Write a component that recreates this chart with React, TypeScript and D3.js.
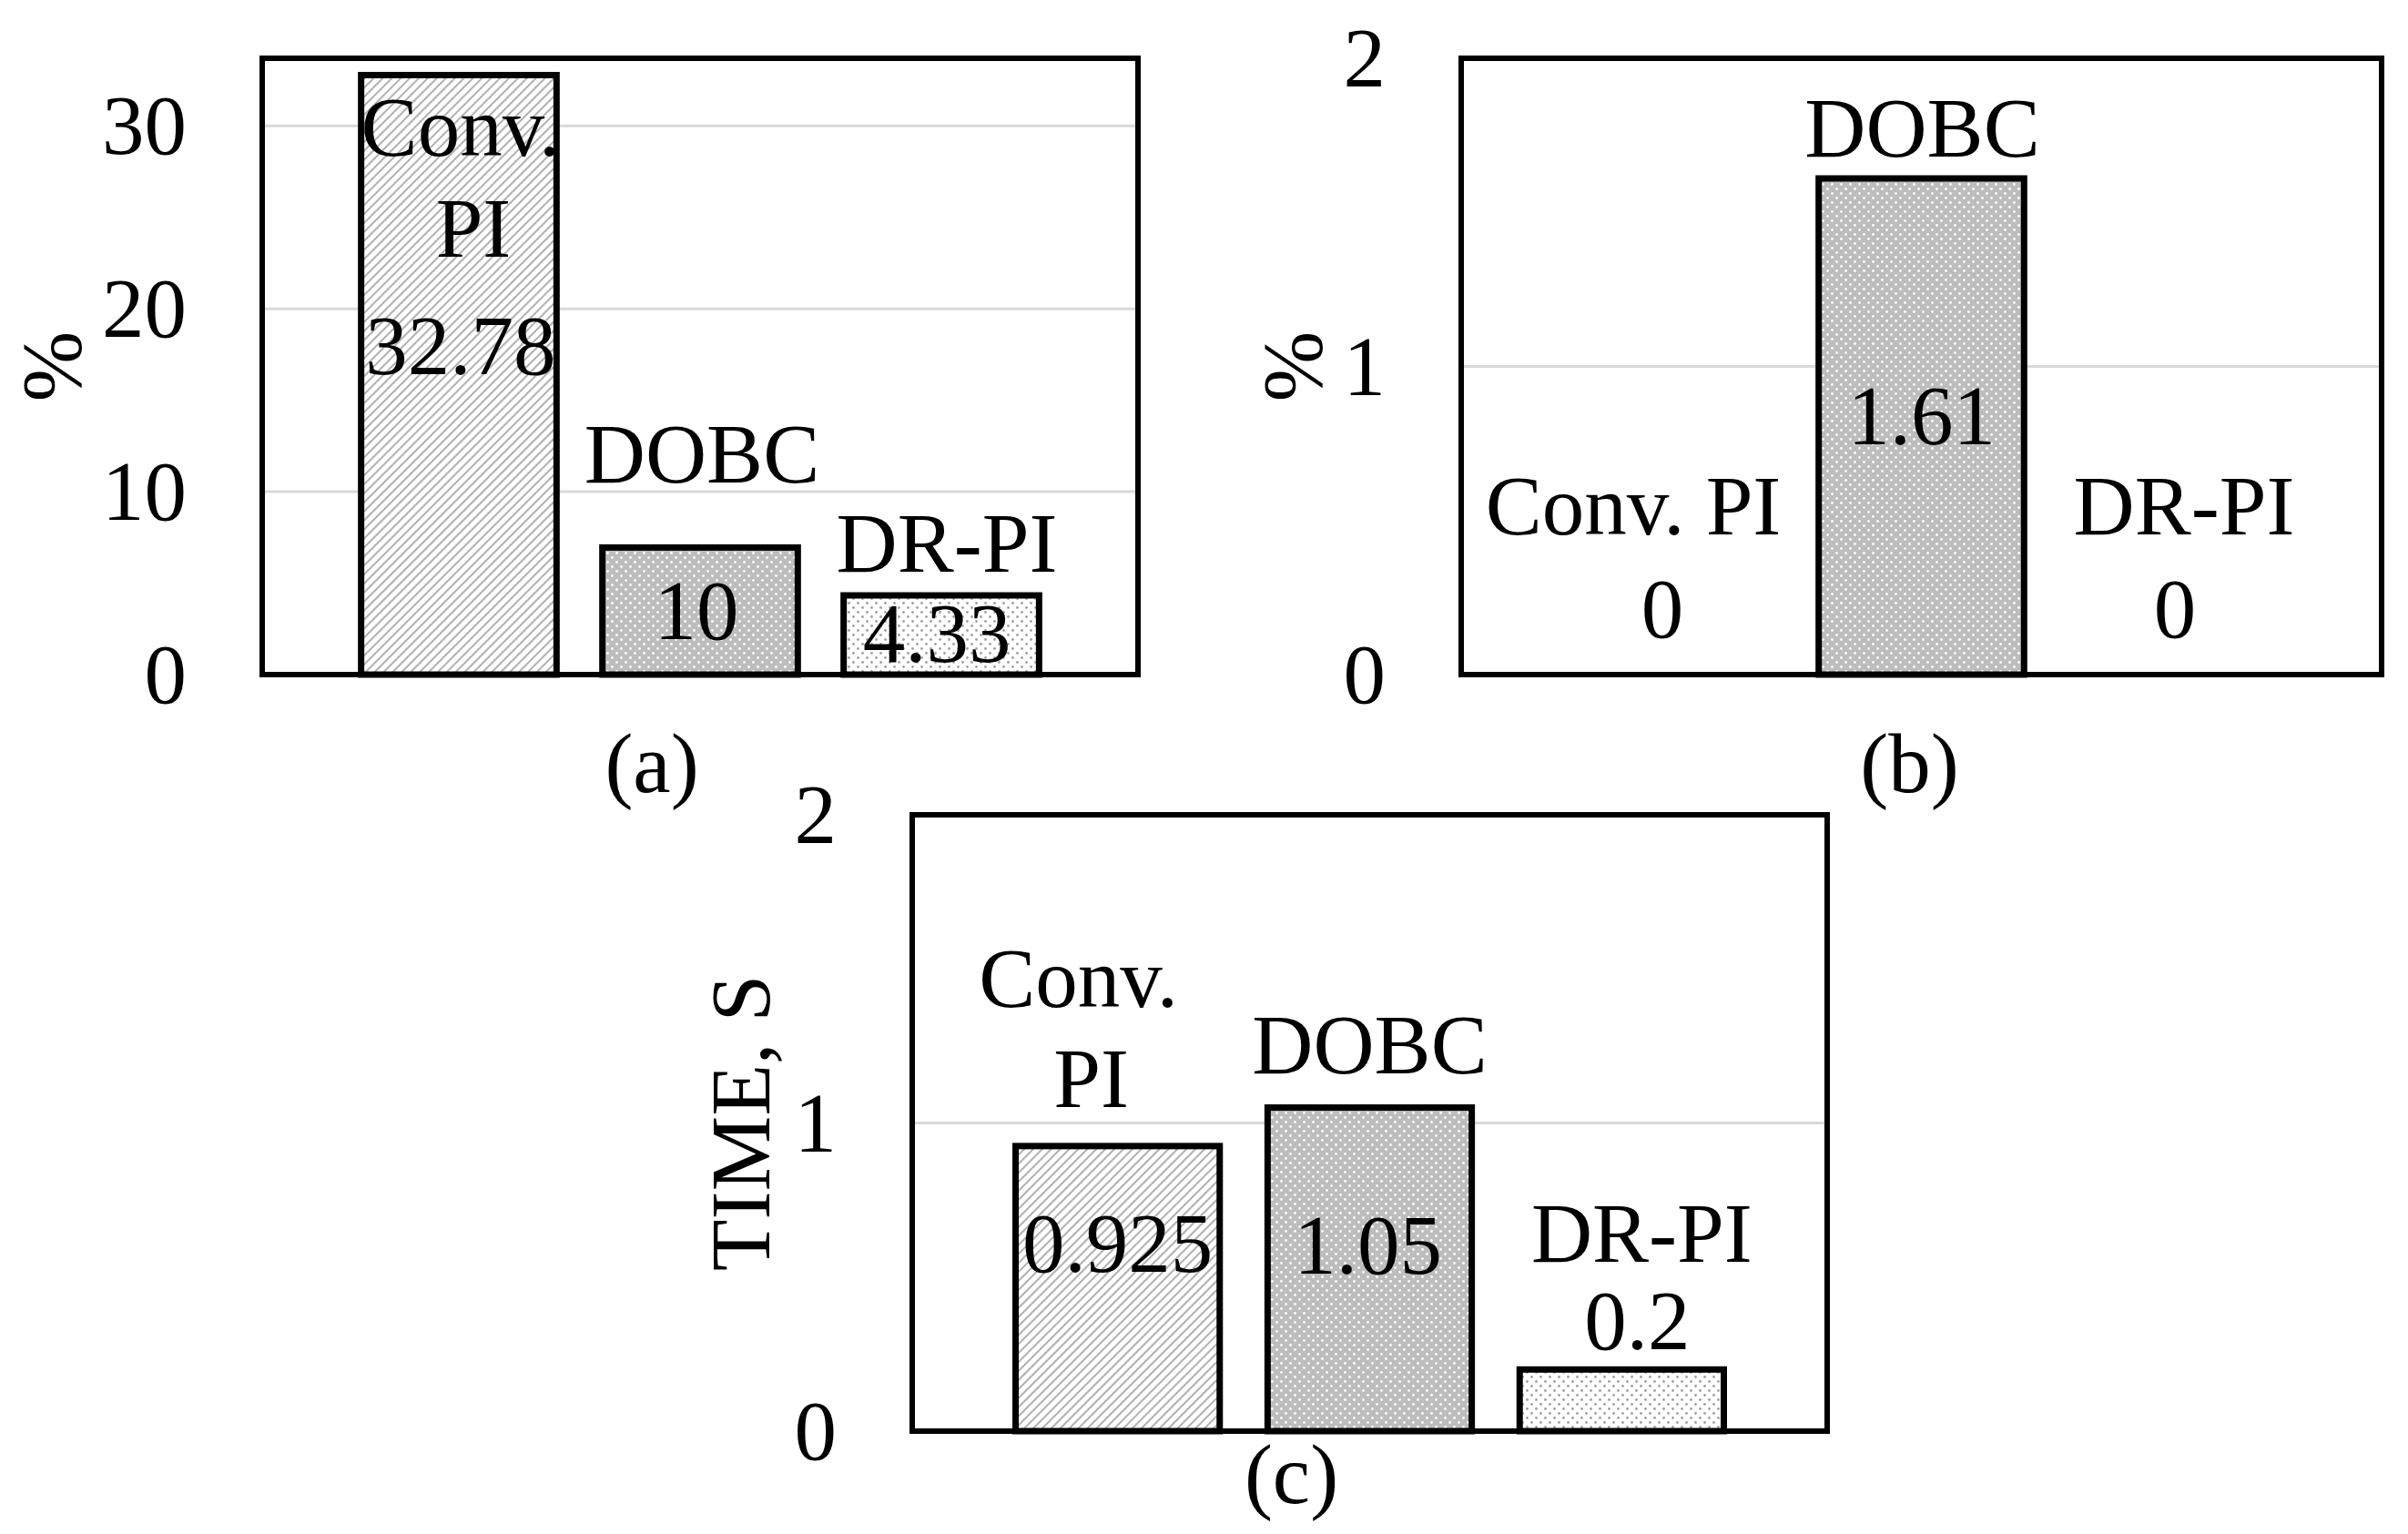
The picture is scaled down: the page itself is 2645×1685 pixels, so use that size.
import { useEffect, useRef } from 'react';
import * as d3 from 'd3';

const categories = ['Conv. PI', 'DOBC', 'DR-PI'];

// (a) overshoot, % -- DOBC bar is drawn lower than its "10" label in the source
const overshootValues = [32.78, 6.95, 4.33];
const overshootLabels = ['32.78', '10', '4.33'];
const overshootTicks = [0, 10, 20, 30];

// (b) undershoot, %
const undershootValues = [0, 1.61, 0];
const undershootLabels = ['0', '1.61', '0'];
const undershootTicks = [0, 1, 2];

// (c) settling time, s
const settlingValues = [0.925, 1.05, 0.2];
const settlingLabels = ['0.925', '1.05', '0.2'];
const settlingTicks = [0, 1, 2];

const W = 2645;
const H = 1685;
const FONT = "'Liberation Serif', 'Times New Roman', serif";
const FS = 93;
const fills = ['url(#hatch)', 'url(#dotsDark)', 'url(#dotsLight)'];

type Lbl = { text: string; dx: number; dy: number };

interface Panel {
  frame: { x0: number; x1: number; y0: number; y1: number };
  yMax: number;
  ticks: number[];
  values: number[];
  labels: Lbl[][]; // per bar, offsets from band centre / bar top
  title: string;
  titleX: number;
  caption: string;
  captionDx: number;
  captionY: number;
}

const panels: Panel[] = [
  {
    frame: { x0: 288, x1: 1250, y0: 64, y1: 741 },
    yMax: 33.7,
    ticks: overshootTicks,
    values: overshootValues,
    labels: [
      [
        { text: 'Conv.', dx: 2, dy: 89 },
        { text: 'PI', dx: 16, dy: 200 },
        { text: overshootLabels[0], dx: 2, dy: 329 },
      ],
      [
        { text: categories[1], dx: 2, dy: -71 },
        { text: overshootLabels[1], dx: -4, dy: 101 },
      ],
      [
        { text: categories[2], dx: 6, dy: -26 },
        { text: overshootLabels[2], dx: -5, dy: 73 },
      ],
    ],
    title: '%',
    titleX: 88,
    caption: '(a)',
    captionDx: -53,
    captionY: 870,
  },
  {
    frame: { x0: 1605, x1: 2616, y0: 64, y1: 741 },
    yMax: 2,
    ticks: undershootTicks,
    values: undershootValues,
    labels: [
      [
        { text: categories[0], dx: -38, dy: -154 },
        { text: undershootLabels[0], dx: -6, dy: -41 },
      ],
      [
        { text: categories[1], dx: 1, dy: -24 },
        { text: undershootLabels[1], dx: 0, dy: 292 },
      ],
      [
        { text: categories[2], dx: 10, dy: -154 },
        { text: undershootLabels[2], dx: 0, dy: -41 },
      ],
    ],
    title: '%',
    titleX: 1451,
    caption: '(b)',
    captionDx: -13,
    captionY: 870,
  },
  {
    frame: { x0: 1002, x1: 2007, y0: 895, y1: 1572 },
    yMax: 2,
    ticks: settlingTicks,
    values: settlingValues,
    labels: [
      [
        { text: 'Conv.', dx: -43, dy: -153 },
        { text: 'PI', dx: -29, dy: -43 },
        { text: settlingLabels[0], dx: 0, dy: 138 },
      ],
      [
        { text: categories[1], dx: 0, dy: -38 },
        { text: settlingLabels[1], dx: -2, dy: 182 },
      ],
      [
        { text: categories[2], dx: 22, dy: -118 },
        { text: settlingLabels[2], dx: 17, dy: -22 },
      ],
    ],
    title: 'TIME, S',
    titleX: 845,
    caption: '(c)',
    captionDx: -86,
    captionY: 1651,
  },
];

export default function App() {
  const svgRef = useRef<SVGSVGElement>(null);

  useEffect(() => {
    if (!svgRef.current) return;
    document.body.style.margin = '0';

    const svg = d3.select(svgRef.current);
    svg.selectAll('*').remove();
    svg.attr('width', W).attr('height', H);

    svg.append('rect').attr('width', W).attr('height', H).attr('fill', '#fff');

    // fill patterns
    const defs = svg.append('defs');
    const hatch = defs.append('pattern')
      .attr('id', 'hatch')
      .attr('patternUnits', 'userSpaceOnUse')
      .attr('width', 7)
      .attr('height', 7)
      .attr('patternTransform', 'rotate(45)');
    hatch.append('rect').attr('width', 7).attr('height', 7).attr('fill', '#fff');
    hatch.append('line')
      .attr('x1', 1).attr('y1', 0).attr('x2', 1).attr('y2', 7)
      .attr('stroke', '#b0b0b0').attr('stroke-width', 2);

    const dots = (id: string, bg: string, dot: string) => {
      const p = defs.append('pattern')
        .attr('id', id)
        .attr('patternUnits', 'userSpaceOnUse')
        .attr('width', 10)
        .attr('height', 10);
      p.append('rect').attr('width', 10).attr('height', 10).attr('fill', bg);
      [[2.5, 2.5], [7.5, 7.5]].forEach(([cx, cy]) => {
        p.append('circle').attr('cx', cx).attr('cy', cy).attr('r', 1.4).attr('fill', dot);
      });
    };
    dots('dotsDark', '#bdbdbd', '#ffffff');
    dots('dotsLight', '#ffffff', '#a0a0a0');

    panels.forEach(p => {
      const g = svg.append('g');
      const { x0, x1, y0, y1 } = p.frame;

      const x = d3.scaleBand<string>()
        .domain(categories)
        .range([x0, x1])
        .paddingInner(0.19)
        .paddingOuter(0.41);

      const y = d3.scaleLinear()
        .domain([0, p.yMax])
        .range([y1, y0]);

      // gridlines
      g.selectAll('line.grid')
        .data(p.ticks.filter(t => t > 0 && y(t) > y0 + 2))
        .join('line')
        .attr('class', 'grid')
        .attr('x1', x0)
        .attr('x2', x1)
        .attr('y1', d => y(d))
        .attr('y2', d => y(d))
        .attr('stroke', '#d9d9d9')
        .attr('stroke-width', 3);

      // bars
      g.selectAll('rect.bar')
        .data(p.values.map((v, i) => ({ v, i })).filter(d => d.v > 0))
        .join('rect')
        .attr('class', 'bar')
        .attr('x', d => x(categories[d.i])!)
        .attr('y', d => y(d.v))
        .attr('width', x.bandwidth())
        .attr('height', d => y(0) - y(d.v))
        .attr('fill', d => fills[d.i])
        .attr('stroke', '#000')
        .attr('stroke-width', 7);

      // frame
      g.append('rect')
        .attr('x', x0)
        .attr('y', y0)
        .attr('width', x1 - x0)
        .attr('height', y1 - y0)
        .attr('fill', 'none')
        .attr('stroke', '#000')
        .attr('stroke-width', 6);

      // y tick labels
      g.selectAll('text.tick')
        .data(p.ticks)
        .join('text')
        .attr('class', 'tick')
        .attr('x', x0 - 83)
        .attr('y', d => y(d) + 31)
        .attr('text-anchor', 'end')
        .attr('font-family', FONT)
        .attr('font-size', FS)
        .text(d => d);

      // data labels
      p.labels.forEach((lbls, i) => {
        const cx = x(categories[i])! + x.bandwidth() / 2;
        const top = y(p.values[i]);
        lbls.forEach(l => {
          g.append('text')
            .attr('x', cx + l.dx)
            .attr('y', top + l.dy)
            .attr('text-anchor', 'middle')
            .attr('font-family', FONT)
            .attr('font-size', FS)
            .text(l.text);
        });
      });

      // y title
      const midY = (y0 + y1) / 2;
      g.append('text')
        .attr('transform', `translate(${p.titleX},${midY}) rotate(-90)`)
        .attr('text-anchor', 'middle')
        .attr('font-family', FONT)
        .attr('font-size', FS)
        .text(p.title);

      // caption
      g.append('text')
        .attr('x', (x0 + x1) / 2 + p.captionDx)
        .attr('y', p.captionY)
        .attr('text-anchor', 'middle')
        .attr('font-family', FONT)
        .attr('font-size', FS)
        .text(p.caption);
    });
  }, []);

  return <svg ref={svgRef} style={{ display: 'block' }}></svg>;
}
